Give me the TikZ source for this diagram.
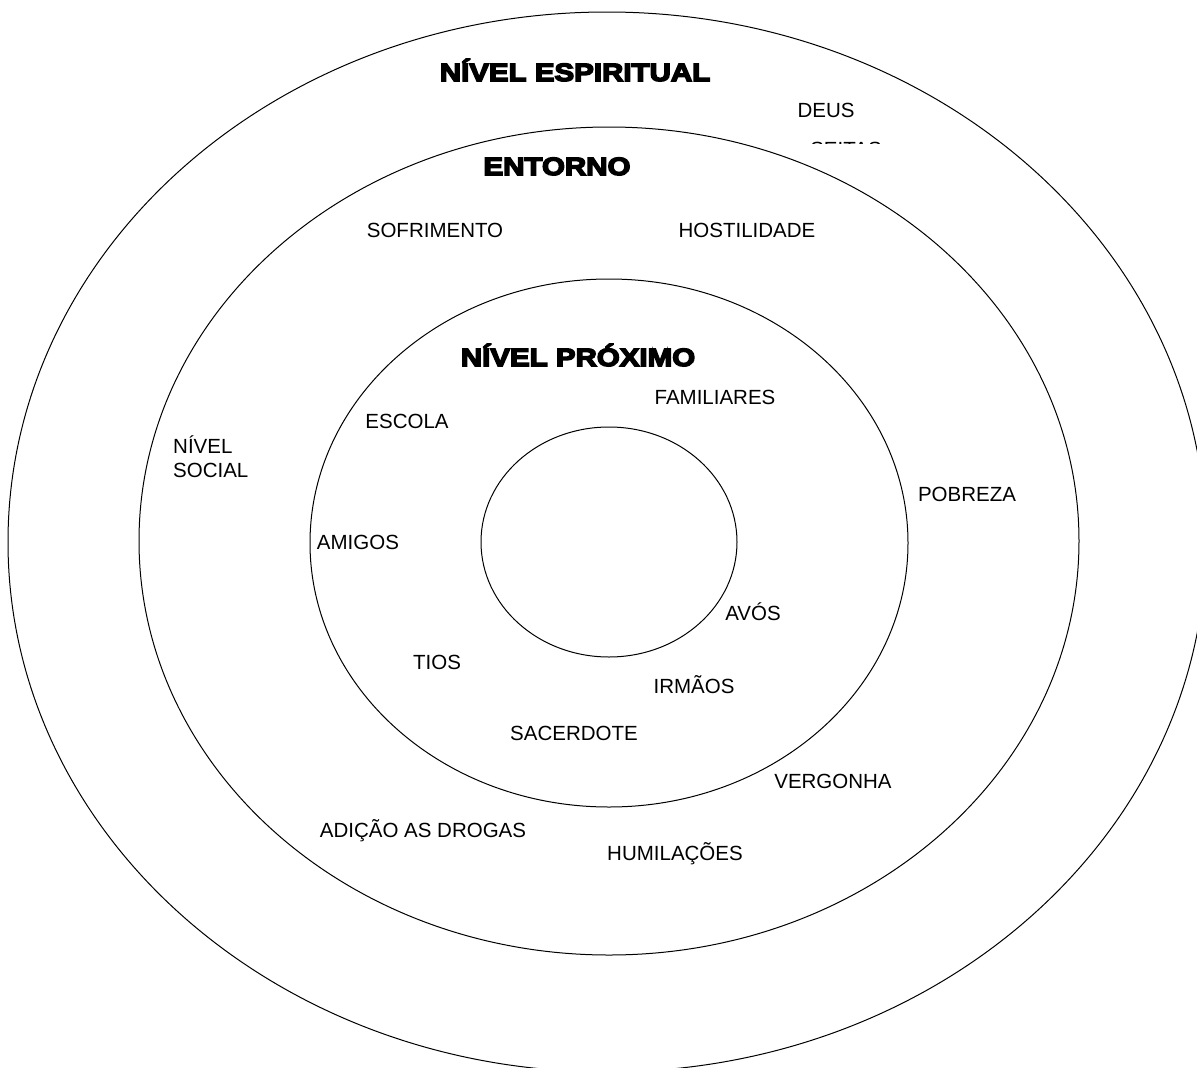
\documentclass[tikz,border=0pt]{standalone}
\usepackage{fontspec}
\setmainfont{Liberation Sans}
\newfontfamily\heavy[FakeBold=6,FakeStretch=1.18]{Liberation Sans Bold}
\tikzset{
  ring/.style={draw=black, line width=1pt},
  lbl/.style={anchor=base, inner sep=0pt, font=\fontsize{20.5}{24}\selectfont},
  lbll/.style={anchor=base west, inner sep=0pt, font=\fontsize{20.5}{24}\selectfont},
  ttl/.style={anchor=base, inner sep=0pt, font=\heavy\fontsize{25}{29}\selectfont},
}
\begin{document}
\begin{tikzpicture}[x=1pt,y=-1pt]
\useasboundingbox (0,0) rectangle (1197,1068);
\clip (0,0) rectangle (1197,1068);
% rings
\draw[ring] (607,542) ellipse [x radius=599, y radius=530];
\draw[ring] (609,541) ellipse [x radius=470, y radius=414];
\draw[ring] (609,543) ellipse [x radius=299, y radius=264];
\draw[ring] (609,542) ellipse [x radius=128, y radius=115];
% titles
\node[ttl] (tesp) at (575,81) {NÍVEL ESPIRITUAL};
\node[ttl] (tent) at (557,175) {ENTORNO};
\node[ttl] (tprox) at (578,366) {NÍVEL PRÓXIMO};
% spiritual level
\node[lbl] (deus) at (826,117) {DEUS};
\begin{scope}
  \clip (790,141.2) rectangle (900,143.2);
  \node[lbl] (seitas) at (846,156) {SEITAS};
\end{scope}
% entorno
\node[lbl] (sofr) at (435,237) {SOFRIMENTO};
\node[lbl] (host) at (747,237) {HOSTILIDADE};
\node[lbll] (niv) at (173,453) {NÍVEL};
\node[lbll] (soc) at (173,477) {SOCIAL};
\node[lbl] (pobr) at (967,501) {POBREZA};
\node[lbl] (verg) at (833,788) {VERGONHA};
\node[lbl] (adic) at (423,837) {ADIÇÃO AS DROGAS};
\node[lbl] (humi) at (675,860) {HUMILAÇÕES};
% proximo
\node[lbl] (fami) at (715,404) {FAMILIARES};
\node[lbl] (esco) at (407,428) {ESCOLA};
\node[lbl] (amig) at (358,549) {AMIGOS};
\node[lbl] (avos) at (753,620) {AVÓS};
\node[lbl] (tios) at (437,669) {TIOS};
\node[lbl] (irma) at (694,693) {IRMÃOS};
\node[lbl] (sace) at (574,740) {SACERDOTE};
\end{tikzpicture}
\end{document}
